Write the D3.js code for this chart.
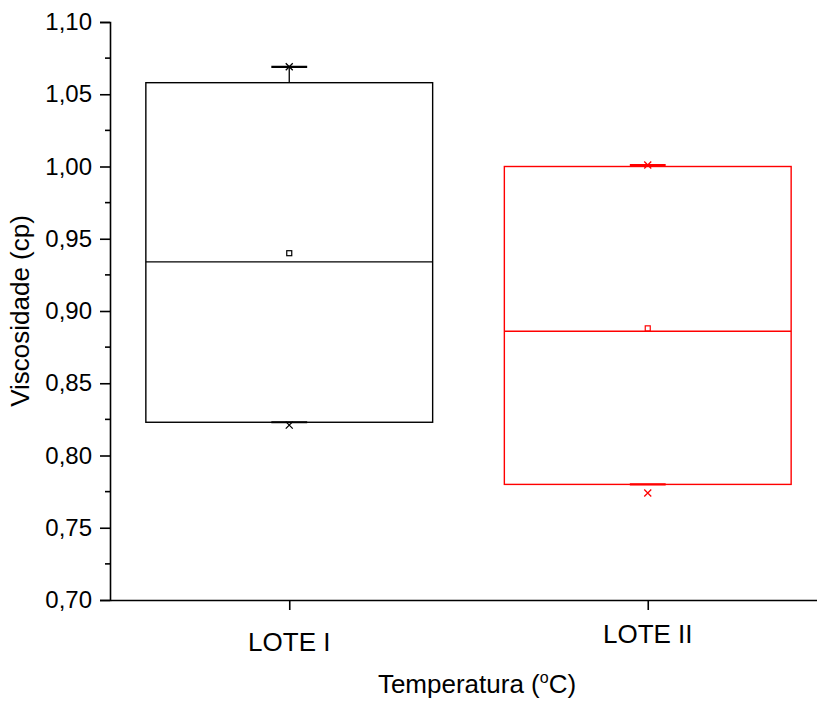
<!DOCTYPE html>
<html>
<head>
<meta charset="utf-8">
<script src="https://cdn.jsdelivr.net/npm/d3@7"></script>
<style>
  html, body { margin: 0; padding: 0; background: #fff; }
  svg { display: block; }
  text { font-family: Arial, "Liberation Sans", sans-serif; fill: #000; }
</style>
</head>
<body>
<svg id="chart" width="817" height="701"></svg>
<script>
// Viscosity box charts per batch
const categories = ["LOTE I", "LOTE II"];
const colors = ["#000000", "#ff0000"];
const q1 = [0.823, 0.780];
const q3 = [1.058, 1.000];
const median = [0.934, 0.886];
const mean = [0.940, 0.888];
const whiskerLow = [0.823, 0.780];
const whiskerHigh = [1.069, 1.001];
const minVal = [0.821, 0.774];
const maxVal = [1.069, 1.001];
const yTicks = [0.70, 0.75, 0.80, 0.85, 0.90, 0.95, 1.00, 1.05, 1.10];

const svg = d3.select("#chart");
const x = d3.scaleLinear().domain([0.5, 2.5]).range([110, 827]);
const y = d3.scaleLinear().domain([0.70, 1.10]).range([600, 22]);
const fmt = v => d3.format(".2f")(v).replace(".", ",");

// Y axis with major and minor ticks
const yAxis = d3.axisLeft(y).tickValues(yTicks).tickFormat(fmt).tickSize(10).tickPadding(8);
const gy = svg.append("g").attr("transform", "translate(110,0)").call(yAxis);
gy.select(".domain").attr("stroke-width", 1.6);
gy.selectAll(".tick line").attr("stroke-width", 1.6);
gy.selectAll(".tick text").attr("font-size", 24).attr("font-family", "Arial, 'Liberation Sans', sans-serif");
const minor = d3.range(0.725, 1.1, 0.05);
gy.selectAll(".minor").data(minor).enter().append("line")
  .attr("x1", -5).attr("x2", 0)
  .attr("y1", d => y(d)).attr("y2", d => y(d))
  .attr("stroke", "#000").attr("stroke-width", 1.6);

// X axis
const xAxis = d3.axisBottom(x).tickValues([1, 2]).tickFormat(() => "").tickSize(10).tickSizeOuter(0);
const gx = svg.append("g").attr("transform", "translate(0,600)").call(xAxis);
gx.select(".domain").attr("stroke-width", 1.6);
gx.selectAll(".tick line").attr("stroke-width", 1.6);

// Category labels
const labelBase = [651, 643];
svg.selectAll(".cat").data(categories).enter().append("text")
  .attr("x", (d, i) => x(i + 1))
  .attr("y", (d, i) => labelBase[i])
  .attr("text-anchor", "middle")
  .attr("font-size", 26)
  .text(d => d);

// Boxes
const boxW = 0.8, capW = 0.1;
categories.forEach((c, i) => {
  const cx = x(i + 1);
  const half = (x(1 + boxW / 2) - x(1));
  const capHalf = (x(1 + capW / 2) - x(1));
  const col = colors[i];
  const g = svg.append("g");
  // whiskers
  g.append("line").attr("x1", cx).attr("x2", cx).attr("y1", y(q3[i])).attr("y2", y(whiskerHigh[i]))
    .attr("stroke", col).attr("stroke-width", 1.3);
  g.append("line").attr("x1", cx).attr("x2", cx).attr("y1", y(q1[i])).attr("y2", y(whiskerLow[i]))
    .attr("stroke", col).attr("stroke-width", 1.3);
  // box
  g.append("rect").attr("x", cx - half).attr("width", 2 * half)
    .attr("y", y(q3[i])).attr("height", y(q1[i]) - y(q3[i]))
    .attr("fill", "none").attr("stroke", col).attr("stroke-width", 1.4);
  // median
  g.append("line").attr("x1", cx - half).attr("x2", cx + half)
    .attr("y1", y(median[i])).attr("y2", y(median[i]))
    .attr("stroke", col).attr("stroke-width", 1.4);
  // caps
  [whiskerHigh[i], whiskerLow[i]].forEach(v => {
    g.append("line").attr("x1", cx - capHalf).attr("x2", cx + capHalf)
      .attr("y1", y(v)).attr("y2", y(v))
      .attr("stroke", col).attr("stroke-width", 2.2);
  });
  // mean marker
  g.append("rect").attr("x", cx - 2.5).attr("y", y(mean[i]) - 2.5)
    .attr("width", 5).attr("height", 5)
    .attr("fill", "#fff").attr("stroke", col).attr("stroke-width", 1.2);
  // min / max markers
  [minVal[i], maxVal[i]].forEach(v => {
    const yy = y(v), s = 3.5;
    g.append("path")
      .attr("d", `M${cx - s},${yy - s}L${cx + s},${yy + s}M${cx - s},${yy + s}L${cx + s},${yy - s}`)
      .attr("stroke", col).attr("stroke-width", 1.3).attr("fill", "none");
  });
});

// Axis titles
svg.append("text")
  .attr("transform", "translate(29,311) rotate(-90)")
  .attr("text-anchor", "middle")
  .attr("font-size", 26)
  .text("Viscosidade (cp)");

const xt = svg.append("text")
  .attr("x", 477).attr("y", 693)
  .attr("text-anchor", "middle")
  .attr("font-size", 26);
xt.append("tspan").text("Temperatura (");
xt.append("tspan").attr("font-size", 16).attr("dy", -10).text("o");
xt.append("tspan").attr("dy", 10).text("C)");
</script>
</body>
</html>
